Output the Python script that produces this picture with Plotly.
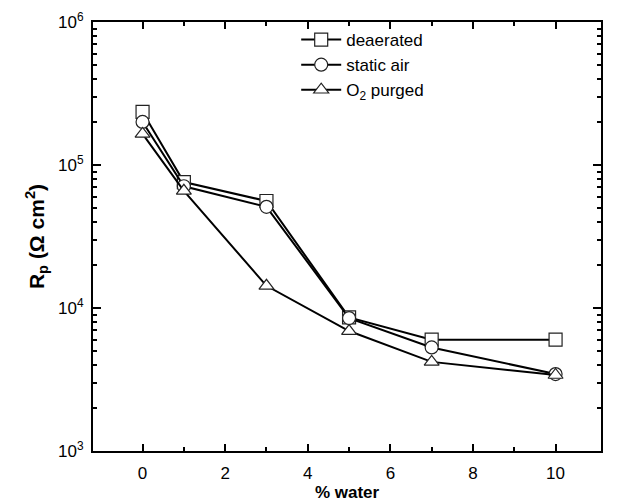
import plotly.graph_objects as go

water = [0, 1, 3, 5, 7, 10]
deaerated = [2.35e5, 7.6e4, 5.6e4, 8.6e3, 6.0e3, 6.0e3]
static_air = [2.0e5, 7.1e4, 5.1e4, 8.5e3, 5.3e3, 3.45e3]
o2_purged = [1.65e5, 6.6e4, 1.43e4, 6.9e3, 4.2e3, 3.4e3]

series = [
    ("deaerated", deaerated, "square"),
    ("static air", static_air, "circle"),
    ("O<sub>2</sub> purged", o2_purged, "triangle-up"),
]

fig = go.Figure()
for name, ys, sym in series:
    fig.add_trace(go.Scatter(
        x=water, y=ys, name=name, mode="lines+markers",
        line=dict(color="black", width=2),
        marker=dict(symbol=sym, size=13, color="white",
                    line=dict(color="#222", width=1.2)),
    ))

ytickvals = [1e3, 1e4, 1e5, 1e6]
yticktext = ["10<sup>3</sup>", "10<sup>4</sup>", "10<sup>5</sup>", "10<sup>6</sup>"]

fig.update_layout(
    width=626, height=504,
    margin=dict(l=93, r=25, t=22, b=53),
    paper_bgcolor="white", plot_bgcolor="white",
    font=dict(family="Liberation Sans, Arial, sans-serif", color="black", size=17),
    showlegend=True,
    legend=dict(x=0.40, y=1.0, xanchor="left", yanchor="top",
                bgcolor="rgba(0,0,0,0)", font=dict(size=17),
                tracegroupgap=0, itemwidth=40),
    xaxis=dict(range=[-1.2, 11.1], tickvals=[0, 2, 4, 6, 8, 10],
               automargin=False,
               ticks="inside", ticklen=7, tickwidth=1.5, tickcolor="black",
               ticklabelstandoff=6,
               minor=dict(ticks="inside", ticklen=4, tickvals=[1, 3, 5, 7, 9], tickcolor="black"),
               showline=True, linecolor="black", linewidth=2, mirror="ticks",
               showgrid=False, zeroline=False,
               title=dict(text="<b>% water</b>", font=dict(size=17), standoff=4)),
    yaxis=dict(type="log", range=[3, 6], tickvals=ytickvals, ticktext=yticktext,
               automargin=False,
               ticks="inside", ticklen=8, tickwidth=1.5, tickcolor="black",
               ticklabelstandoff=4,
               minor=dict(ticks="inside", ticklen=4, dtick="D1", tickcolor="black"),
               showline=True, linecolor="black", linewidth=2, mirror="ticks",
               showgrid=False, zeroline=False,
               title=dict(text="<b>R<sub>p</sub> (Ω cm<sup>2</sup>)</b>", font=dict(size=21), standoff=8)),
)

fig.write_html("out.html")
